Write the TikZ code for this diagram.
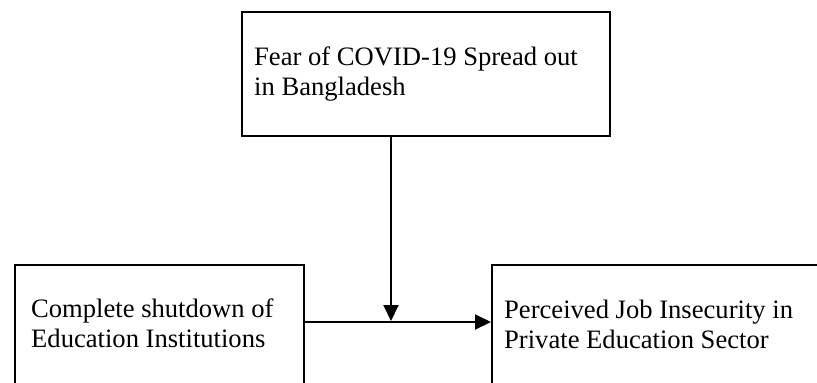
\documentclass[tikz,border=0pt]{standalone}
\usepackage{fontspec}
\setmainfont{Liberation Serif}
\usetikzlibrary{arrows.meta}
\begin{document}
\begin{tikzpicture}[x=1pt,y=-1pt,
  boxshape/.style={draw=black,line width=2pt,rectangle,inner sep=0pt,anchor=north west},
  label text/.style={inner sep=0pt,anchor=north west,align=left,
    font=\fontsize{26.6pt}{30pt}\selectfont},
  arr/.style={line width=2pt,-{Triangle[length=16pt,width=15pt]}}]
\useasboundingbox (0,0) rectangle (817,383);
\clip (0,0) rectangle (817,383);
\node[boxshape,minimum width=368pt,minimum height=124pt] (top) at (241,11) {};
\node[boxshape,minimum width=289pt,minimum height=160pt] (left) at (14,264) {};
\node[boxshape,minimum width=360pt,minimum height=160pt] (right) at (491,264) {};
\node[label text] (toptext) at (254,47) {Fear of COVID-19 Spread out\\in Bangladesh};
\node[label text] (lefttext) at (31,299) {Complete shutdown of\\Education Institutions};
\node[label text] (righttext) at (504,300) {Perceived Job Insecurity in\\Private Education Sector};
\coordinate (hmid) at (391,322);
\draw[arr] (top.south -| hmid) -- ([yshift=1pt]hmid);
\draw[arr] (left.east |- hmid) -- (right.west |- hmid);
\end{tikzpicture}
\end{document}
